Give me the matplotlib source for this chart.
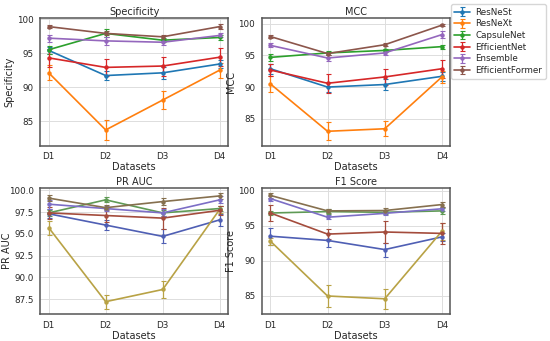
import matplotlib
matplotlib.use("Agg")
import matplotlib.pyplot as plt
import seaborn as sns

sns.set_style("whitegrid")
plt.rcParams["font.family"] = ["DejaVu Sans"]

datasets = ["D1", "D2", "D3", "D4"]
models = ["ResNeSt", "ResNeXt", "CapsuleNet", "EfficientNet", "Ensemble", "EfficientFormer"]

top_colors = ["#1f77b4", "#ff7f0e", "#2ca02c", "#d62728", "#9467bd", "#8c564b"]
bottom_colors = ["#4f5fb4", "#b8a245", "#5f9a55", "#a44c3c", "#7c6ec6", "#86704f"]

# mean values per model (order as in `models`)
specificity = [
    [95.4, 91.7, 92.1, 93.4],
    [92.1, 83.7, 88.1, 92.5],
    [95.5, 97.9, 96.9, 97.3],
    [94.3, 92.9, 93.1, 94.4],
    [97.2, 96.8, 96.6, 97.6],
    [98.9, 97.9, 97.4, 98.9],
]
specificity_err = [
    [0.5, 0.6, 0.9, 0.6],
    [1.1, 1.5, 1.3, 1.1],
    [0.6, 0.6, 0.3, 0.3],
    [1.3, 1.2, 1.4, 1.3],
    [0.5, 0.6, 0.4, 0.3],
    [0.2, 0.3, 0.3, 0.4],
]

mcc = [
    [92.9, 90.0, 90.4, 91.7],
    [90.5, 83.0, 83.4, 91.6],
    [94.7, 95.4, 95.8, 96.4],
    [92.7, 90.6, 91.6, 92.9],
    [96.6, 94.6, 95.4, 98.3],
    [98.0, 95.3, 96.7, 99.8],
]
mcc_err = [
    [0.8, 0.8, 0.9, 0.7],
    [1.3, 1.4, 1.2, 1.0],
    [0.6, 0.3, 0.3, 0.3],
    [1.0, 1.5, 1.2, 1.4],
    [0.3, 0.4, 0.3, 0.5],
    [0.3, 0.3, 0.2, 0.2],
]

pr_auc = [
    [97.3, 96.0, 94.7, 96.6],
    [95.7, 87.2, 88.6, 97.8],
    [97.4, 98.9, 97.4, 97.9],
    [97.4, 97.1, 96.8, 97.7],
    [98.4, 97.9, 97.4, 98.9],
    [99.1, 98.0, 98.7, 99.35],
]
pr_auc_err = [
    [0.5, 0.6, 0.8, 0.7],
    [0.8, 0.8, 1.0, 0.4],
    [0.3, 0.3, 0.3, 0.3],
    [0.7, 0.8, 1.2, 0.5],
    [0.5, 0.3, 0.4, 0.4],
    [0.3, 0.3, 0.4, 0.3],
]

f1 = [
    [93.5, 92.9, 91.6, 93.4],
    [92.8, 85.0, 84.6, 94.2],
    [96.8, 97.0, 96.9, 97.1],
    [96.8, 93.8, 94.1, 93.9],
    [98.85, 96.2, 96.75, 97.4],
    [99.3, 97.1, 97.15, 98.0],
]
f1_err = [
    [1.2, 1.0, 1.0, 0.6],
    [0.5, 1.6, 1.4, 1.2],
    [0.3, 0.4, 0.3, 0.4],
    [1.2, 0.7, 1.6, 1.5],
    [0.4, 0.3, 0.3, 0.3],
    [0.3, 0.3, 0.3, 0.3],
]

panels = [
    ("Specificity", specificity, specificity_err, top_colors, [85, 90, 95, 100]),
    ("MCC", mcc, mcc_err, top_colors, [85, 90, 95, 100]),
    ("PR AUC", pr_auc, pr_auc_err, bottom_colors, [87.5, 90.0, 92.5, 95.0, 97.5, 100.0]),
    ("F1 Score", f1, f1_err, bottom_colors, [85, 90, 95, 100]),
]

fig = plt.figure(figsize=(5.5, 3.41), dpi=100)
rects = [
    [0.073, 0.572, 0.342, 0.375],
    [0.476, 0.572, 0.343, 0.375],
    [0.073, 0.078, 0.342, 0.372],
    [0.476, 0.078, 0.343, 0.372],
]

fs = 7
handles = []
for rect, (title, vals, errs, colors, yticks) in zip(rects, panels):
    ax = fig.add_axes(rect)
    x = range(len(datasets))
    for i, name in enumerate(models):
        h = ax.errorbar(x, vals[i], yerr=errs[i], color=colors[i], marker="o",
                        markersize=2.2, linewidth=1.2, elinewidth=0.9,
                        capsize=1.8, capthick=0.8, label=name)
        if title == "Specificity":
            handles.append(h)
    ax.set_xticks(list(x))
    ax.set_xticklabels(datasets)
    ax.set_yticks(yticks)
    if title == "PR AUC":
        ax.set_yticklabels([f"{t:.1f}" for t in yticks])
    ax.set_title(title, fontsize=fs, pad=2)
    ax.set_xlabel("Datasets", fontsize=fs, labelpad=0.5)
    ax.set_ylabel(title, fontsize=fs, labelpad=1.5)
    if title == "PR AUC":
        ax.yaxis.set_label_coords(-0.15, 0.5)
    ax.tick_params(labelsize=6.3, pad=1.2)
    ax.grid(True, color="#dddddd", linewidth=0.7)
    for sp in ax.spines.values():
        sp.set_edgecolor("#555555")
        sp.set_linewidth(1.1)

fig.legend(handles, models, loc="upper right", bbox_to_anchor=(1.0, 1.0),
           fontsize=6.3, frameon=True, handlelength=1.8, borderpad=0.4,
           labelspacing=0.3, handletextpad=0.6)

fig.savefig("out.png", dpi=100)
